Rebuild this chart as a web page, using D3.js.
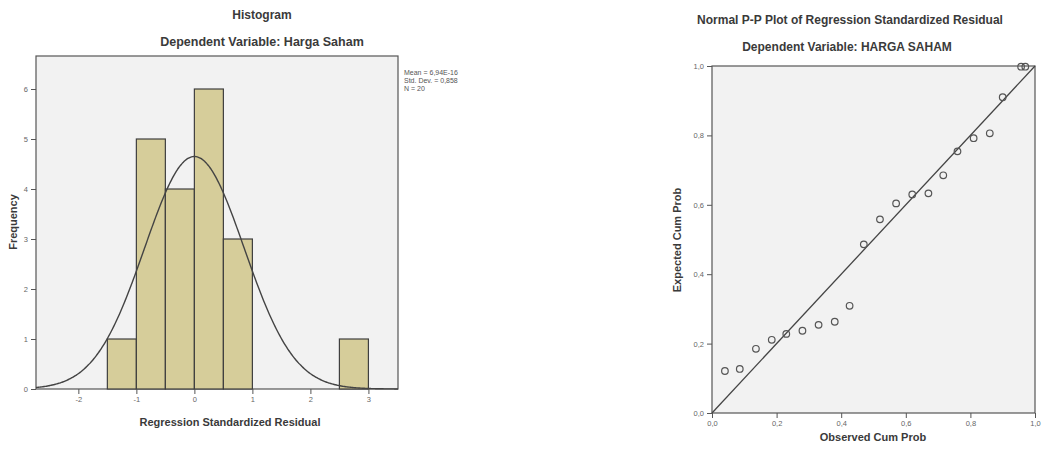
<!DOCTYPE html>
<html>
<head>
<meta charset="utf-8">
<script src="https://cdn.jsdelivr.net/npm/d3@7"></script>
<style>
  html, body { margin: 0; padding: 0; background: #fff; }
  svg { display: block; font-family: "Liberation Sans", Arial, sans-serif; }
</style>
</head>
<body>
<svg id="chart" width="1045" height="453"></svg>
<script>
// ---- Histogram data: residual bins (start of each 0.5-wide bin) and counts
const binStarts = [-1.5, -1.0, -0.5, 0.0, 0.5, 2.5];
const binCounts = [1, 5, 4, 6, 3, 1];
const binWidth = 0.5;
const histXTicks = [-2, -1, 0, 1, 2, 3];
const histYTicks = [0, 1, 2, 3, 4, 5, 6];
const residMean = 6.94e-16;
const residSD = 0.858;
const residN = 20;
const statLines = ["Mean = 6,94E-16", "Std. Dev. = 0,858", "N = 20"];

// ---- P-P plot data: observed vs expected cumulative probability
const observedCum = [0.040, 0.086, 0.136, 0.185, 0.230, 0.280, 0.330, 0.380, 0.426, 0.470,
                     0.520, 0.570, 0.620, 0.670, 0.716, 0.760, 0.810, 0.860, 0.900, 0.957, 0.970];
const expectedCum = [0.121, 0.127, 0.185, 0.211, 0.228, 0.237, 0.254, 0.263, 0.309, 0.486,
                     0.558, 0.604, 0.630, 0.633, 0.685, 0.754, 0.792, 0.806, 0.910, 0.998, 0.998];
const ppTicks = [0, 0.2, 0.4, 0.6, 0.8, 1.0];

const svg = d3.select("#chart");
const ink = "#3a3a3a";
const tickInk = "#666";
const fmtComma = v => d3.format(".1f")(v).replace(".", ",");
const fmtInt = v => String(v);

function frame(g, x0, y0, x1, y1) {
  g.append("rect").attr("x", x0).attr("y", y0)
    .attr("width", x1 - x0).attr("height", y1 - y0)
    .attr("fill", "#f2f2f2").attr("stroke", "#555").attr("stroke-width", 1.2);
}

function styleAxis(ax) {
  ax.select(".domain").remove();
  ax.selectAll(".tick line").attr("stroke", "#555").attr("stroke-width", 1);
  ax.selectAll(".tick text").attr("fill", tickInk).attr("font-size", 7.5);
}

// ================= Histogram =================
const hL = 36, hR = 398, hT = 56, hB = 389;
const hx = d3.scaleLinear().domain([-2.73, 3.51]).range([hL, hR]);
const hy = d3.scaleLinear().domain([0, 6.66]).range([hB, hT]);
const hist = svg.append("g");

hist.append("text").attr("x", 262).attr("y", 19).attr("text-anchor", "middle")
  .attr("font-weight", "bold").attr("font-size", 12).attr("fill", ink).text("Histogram");
hist.append("text").attr("x", 262).attr("y", 46).attr("text-anchor", "middle")
  .attr("font-weight", "bold").attr("font-size", 12.5).attr("fill", ink)
  .text("Dependent Variable: Harga Saham");

frame(hist, hL, hT, hR, hB);

hist.selectAll("rect.bar").data(binStarts).enter().append("rect")
  .attr("class", "bar")
  .attr("x", d => hx(d))
  .attr("width", d => hx(d + binWidth) - hx(d))
  .attr("y", (d, i) => hy(binCounts[i]))
  .attr("height", (d, i) => hB - hy(binCounts[i]))
  .attr("fill", "#d6cd9a").attr("stroke", "#3f3f3f").attr("stroke-width", 1.2);

// fitted normal curve scaled to counts
const normPts = d3.range(-2.73, 3.511, 0.02).map(x => {
  const z = (x - residMean) / residSD;
  return [x, residN * binWidth * Math.exp(-0.5 * z * z) / (residSD * Math.sqrt(2 * Math.PI))];
});
hist.append("path").datum(normPts)
  .attr("d", d3.line().x(d => hx(d[0])).y(d => hy(d[1])).curve(d3.curveBasis))
  .attr("fill", "none").attr("stroke", "#444").attr("stroke-width", 1.4);

const hxAxis = hist.append("g").attr("transform", `translate(0,${hB})`)
  .call(d3.axisBottom(hx).tickValues(histXTicks).tickSize(5).tickPadding(3).tickFormat(fmtInt));
styleAxis(hxAxis);
const hyAxis = hist.append("g").attr("transform", `translate(${hL},0)`)
  .call(d3.axisLeft(hy).tickValues(histYTicks).tickSize(5).tickPadding(3).tickFormat(fmtInt));
styleAxis(hyAxis);

hist.append("text").attr("x", 230).attr("y", 426).attr("text-anchor", "middle")
  .attr("font-weight", "bold").attr("font-size", 11).attr("fill", ink)
  .text("Regression Standardized Residual");
hist.append("text").attr("transform", `translate(17,222) rotate(-90)`)
  .attr("text-anchor", "middle").attr("font-weight", "bold").attr("font-size", 11)
  .attr("fill", ink).text("Frequency");

hist.selectAll("text.stat").data(statLines).enter().append("text")
  .attr("class", "stat").attr("x", 404).attr("y", (d, i) => 75 + i * 8)
  .attr("font-size", 7).attr("fill", "#555").text(d => d);

// ================= Normal P-P plot =================
const pL = 712, pR = 1035, pT = 66, pB = 413;
const px = d3.scaleLinear().domain([0, 1]).range([pL, pR]);
const py = d3.scaleLinear().domain([0, 1]).range([pB, pT]);
const pp = svg.append("g");

pp.append("text").attr("x", 850).attr("y", 24).attr("text-anchor", "middle")
  .attr("font-weight", "bold").attr("font-size", 12).attr("fill", ink)
  .text("Normal P-P Plot of Regression Standardized Residual");
pp.append("text").attr("x", 847).attr("y", 51).attr("text-anchor", "middle")
  .attr("font-weight", "bold").attr("font-size", 12).attr("fill", ink)
  .text("Dependent Variable: HARGA SAHAM");

frame(pp, pL, pT, pR, pB);

pp.append("line").attr("x1", px(0)).attr("y1", py(0)).attr("x2", px(1)).attr("y2", py(1))
  .attr("stroke", "#444").attr("stroke-width", 1.3);

pp.selectAll("circle").data(observedCum).enter().append("circle")
  .attr("cx", d => px(d)).attr("cy", (d, i) => py(expectedCum[i]))
  .attr("r", 3.3).attr("fill", "none").attr("stroke", "#555").attr("stroke-width", 1.2);

const pxAxis = pp.append("g").attr("transform", `translate(0,${pB})`)
  .call(d3.axisBottom(px).tickValues(ppTicks).tickSize(5).tickPadding(3).tickFormat(fmtComma));
styleAxis(pxAxis);
const pyAxis = pp.append("g").attr("transform", `translate(${pL},0)`)
  .call(d3.axisLeft(py).tickValues(ppTicks).tickSize(5).tickPadding(3).tickFormat(fmtComma));
styleAxis(pyAxis);

pp.append("text").attr("x", 873).attr("y", 441).attr("text-anchor", "middle")
  .attr("font-weight", "bold").attr("font-size", 11).attr("fill", ink)
  .text("Observed Cum Prob");
pp.append("text").attr("transform", `translate(681,240) rotate(-90)`)
  .attr("text-anchor", "middle").attr("font-weight", "bold").attr("font-size", 11)
  .attr("fill", ink).text("Expected Cum Prob");
</script>
</body>
</html>
